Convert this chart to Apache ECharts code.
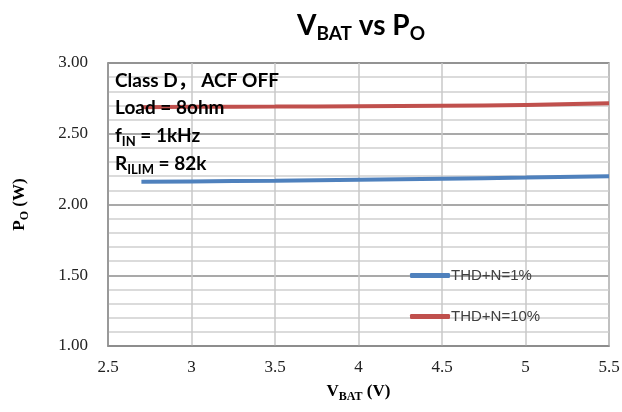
<!DOCTYPE html>
<html>
<head>
<meta charset="utf-8">
<script src="https://cdn.jsdelivr.net/npm/echarts@6/dist/echarts.min.js"></script>
<style>html,body{margin:0;padding:0;background:#fff;}#c{width:622px;height:412px;}</style>
</head>
<body>
<div id="c"></div>
<script>
const vbat = [2.7, 3.0, 3.5, 4.0, 4.5, 5.0, 5.5];
const thd1 = [2.160, 2.163, 2.168, 2.175, 2.182, 2.190, 2.200];
const thd10 = [2.688, 2.690, 2.692, 2.695, 2.698, 2.703, 2.715];
const seriesNames = ['THD+N=1%', 'THD+N=10%'];
const xTicks = {min: 2.5, max: 5.5, interval: 0.5};
const yTicks = {min: 1.0, max: 3.0, interval: 0.5};

function richSet(family, size, subSize, shift) {
  const h = 2 * shift + subSize;
  return {
    n: {fontFamily: family, fontWeight: 'bold', fontSize: size, color: '#000', verticalAlign: 'middle', lineHeight: Math.max(h, size)},
    s: {fontFamily: family, fontWeight: 'bold', fontSize: subSize, color: '#000', verticalAlign: 'bottom', lineHeight: subSize}
  };
}
const chart = echarts.init(document.getElementById('c'), null, {renderer: 'canvas'});
const serifRich = richSet('Liberation Serif', 17, 12, 5);
const annRich = richSet('Lato, "Noto Sans CJK SC"', 19, 13, 6);
const annLines = [
  '{n|Class D， ACF OFF}',
  '{n|Load = 8ohm}',
  '{n|f}{s|IN}{n| = 1kHz}',
  '{n|R}{s|ILIM}{n| = 82k}'
];
chart.setOption({
  animation: false,
  backgroundColor: '#fff',
  title: {
    text: '{n|V}{s|BAT}{n| vs P}{s|O}',
    left: 356, top: 3, textAlign: 'center',
    textStyle: {rich: richSet('Lato', 28, 19, 8)}
  },
  grid: {left: 108, right: 13, top: 63, bottom: 66, show: true, borderColor: '#8c8c8c', borderWidth: 1.5,
    outerBoundsMode: 'none', containLabel: false},
  legend: {
    orient: 'vertical', left: 405, top: 263, itemGap: 26,
    itemWidth: 40, itemHeight: 5, icon: 'roundRect', itemStyle: {borderWidth: 0},
    textStyle: {fontFamily: 'Liberation Sans', fontSize: 15, color: '#404040', padding: [0, 0, 0, -4]},
    data: seriesNames
  },
  xAxis: {
    type: 'value', min: xTicks.min, max: xTicks.max, interval: xTicks.interval,
    name: '{n|V}{s|BAT}{n| (V)}', nameLocation: 'middle', nameGap: 35,
    nameTextStyle: {rich: serifRich},
    axisLine: {show: true, lineStyle: {color: '#8c8c8c', width: 1.5}},
    axisTick: {show: false},
    axisLabel: {fontFamily: 'Liberation Serif', fontSize: 17, color: '#222', margin: 13},
    splitLine: {show: true, lineStyle: {color: '#c8c8c8', width: 1.5}}
  },
  yAxis: {
    type: 'value', min: yTicks.min, max: yTicks.max, interval: yTicks.interval,
    name: '{n|P}{s|O}{n| (W)}', nameLocation: 'middle', nameGap: 77, nameRotate: 90,
    nameTextStyle: {rich: serifRich},
    axisLine: {show: true, lineStyle: {color: '#8c8c8c', width: 1.5}},
    axisTick: {show: false},
    axisLabel: {fontFamily: 'Liberation Serif', fontSize: 17, color: '#222', margin: 20,
      formatter: v => v.toFixed(2)},
    splitLine: {show: true, lineStyle: {color: '#8c8c8c', width: 1.5}},
    minorTick: {show: false, splitNumber: 5},
    minorSplitLine: {show: true, lineStyle: {color: '#cfcfcf', width: 1.5}}
  },
  graphic: annLines.map((t, i) => ({
    type: 'text', left: 115, top: 71 + i * 27.7, z: 100,
    style: {text: t, rich: annRich}
  })),
  series: [
    {name: seriesNames[0], type: 'line', data: vbat.map((x, i) => [x, thd1[i]]), smooth: true,
      symbol: 'none', lineStyle: {color: '#4f81bd', width: 4}, itemStyle: {color: '#4f81bd'}},
    {name: seriesNames[1], type: 'line', data: vbat.map((x, i) => [x, thd10[i]]), smooth: true,
      symbol: 'none', lineStyle: {color: '#c0504d', width: 4}, itemStyle: {color: '#c0504d'}}
  ]
});
</script>
</body>
</html>
